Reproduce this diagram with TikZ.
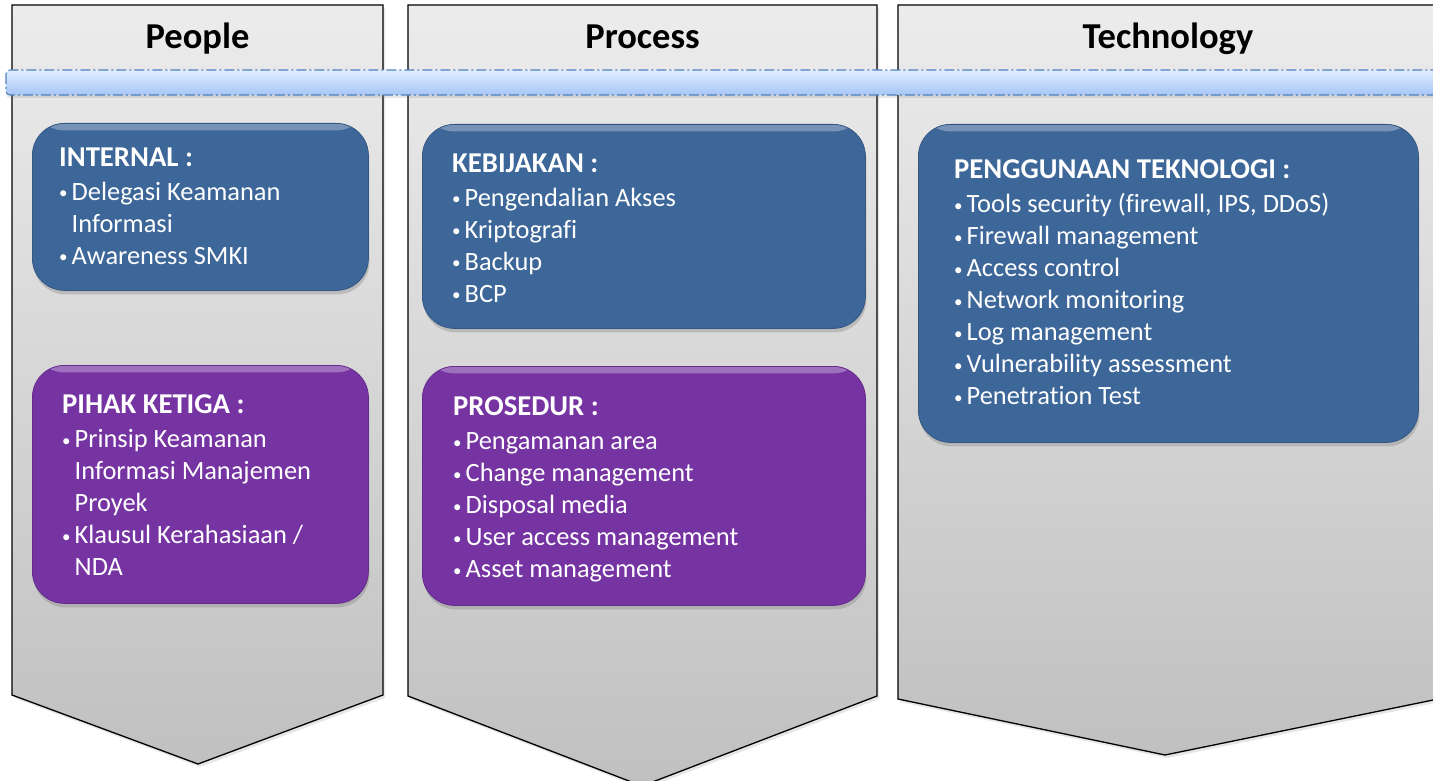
\documentclass[tikz,border=0pt]{standalone}
\usepackage{fontspec}
\setmainfont{Carlito}[Ligatures=CommonOff]
\usetikzlibrary{shadows,calc}

\definecolor{boxblue}{RGB}{61,102,153}
\definecolor{boxpurple}{RGB}{118,52,163}
\definecolor{colgraytop}{RGB}{236,236,236}
\definecolor{colgraybot}{RGB}{192,192,192}
\definecolor{bandtop}{RGB}{226,237,255}
\definecolor{bandbot}{RGB}{165,197,245}
\definecolor{banddash}{RGB}{79,129,189}

\tikzset{
  column/.style={draw=black, line width=1.3pt, top color=colgraytop, bottom color=colgraybot,
    drop shadow={shadow xshift=2pt, shadow yshift=-3pt, opacity=.2}},
  band/.style={draw=banddash, line width=1.1pt, top color=bandtop, bottom color=bandbot,
    rounded corners=4pt, dash pattern=on 10pt off 3pt on 2pt off 3pt,
    drop shadow={shadow xshift=0pt, shadow yshift=-3pt, opacity=.2}},
  card/.style={rectangle, rounded corners=32pt, line width=.8pt, inner sep=0pt, anchor=north west,
    drop shadow={shadow xshift=1pt, shadow yshift=-4pt, opacity=.35}},
  bevel/.style={path picture={\shade[top color=#1!70!white, bottom color=#1]
    (path picture bounding box.north west) rectangle ([yshift=-7pt]path picture bounding box.north east);}},
  bluecard/.style={card, fill=boxblue, draw=boxblue!85!black, bevel=boxblue},
  purplecard/.style={card, fill=boxpurple, draw=boxpurple!85!black, bevel=boxpurple},
  cardtext/.style={anchor=north west, inner sep=0pt, align=left, text=white,
    font=\fontsize{26.4}{32}\selectfont},
  colhead/.style={anchor=base, font=\bfseries\fontsize{36.5}{40}\selectfont}
}
\newcommand{\hd}[1]{{\bfseries\fontsize{28.7}{32}\selectfont #1}}
\newcommand{\itm}{\makebox[12.5pt][l]{\raisebox{1.5pt}{\fontsize{17}{17}\selectfont\textbullet}}}
\newcommand{\ind}{\hspace*{12.5pt}}

\begin{document}
\begin{tikzpicture}[x=1pt,y=-1pt]
    \useasboundingbox (0,0) rectangle (1433,781);
    % columns
    \path[column] (12,5) -- (383,5) -- (383,695) -- (198,764) -- (12,695) -- cycle;
    \path[column] (408,5) -- (877,5) -- (877,696) -- (642,786) -- (408,696) -- cycle;
    \path[column] (898,5) -- (1438,5) -- (1438,699) -- (1165,755) -- (898,699) -- cycle;
    \node [colhead] (people) at (197.5,49) {People};
    \node [colhead] (process) at (642.5,49) {Process};
    \node [colhead] (technology) at (1168,49) {Technology};
    % band
    \path[band] (6,70) rectangle (1450,95);
    % cards
    \node [bluecard, minimum width=336pt, minimum height=167pt] (internal) at (32,123) {};
    \node [purplecard, minimum width=336pt, minimum height=238pt] (pihak) at (32,365) {};
    \node [bluecard, minimum width=443pt, minimum height=204pt] (kebijakan) at (422,124) {};
    \node [purplecard, minimum width=443pt, minimum height=239pt] (prosedur) at (422,366) {};
    \node [bluecard, minimum width=500pt, minimum height=318pt] (teknologi) at (918,124) {};
    % card texts
    \node [cardtext] (internal-t) at ($(internal.north west)+(27,24.5)$)
        {\hd{INTERNAL :}\\[2pt]
         \itm Delegasi Keamanan\\
         \ind Informasi\\
         \itm Awareness SMKI};
    \node [cardtext] (pihak-t) at ($(pihak.north west)+(30,29.5)$)
        {\hd{PIHAK KETIGA :}\\[2pt]
         \itm Prinsip Keamanan\\
         \ind Informasi Manajemen\\
         \ind Proyek\\
         \itm Klausul Kerahasiaan /\\
         \ind NDA};
    \node [cardtext] (kebijakan-t) at ($(kebijakan.north west)+(30,29.5)$)
        {\hd{KEBIJAKAN :}\\[2pt]
         \itm Pengendalian Akses\\
         \itm Kriptografi\\
         \itm Backup\\
         \itm BCP};
    \node [cardtext] (prosedur-t) at ($(prosedur.north west)+(31,30.5)$)
        {\hd{PROSEDUR :}\\[2pt]
         \itm Pengamanan area\\
         \itm Change management\\
         \itm Disposal media\\
         \itm User access management\\
         \itm Asset management};
    \node [cardtext] (teknologi-t) at ($(teknologi.north west)+(36,35.5)$)
        {\hd{PENGGUNAAN TEKNOLOGI :}\\[2pt]
         \itm Tools security (firewall, IPS, DDoS)\\
         \itm Firewall management\\
         \itm Access control\\
         \itm Network monitoring\\
         \itm Log management\\
         \itm Vulnerability assessment\\
         \itm Penetration Test};
\end{tikzpicture}
\end{document}
